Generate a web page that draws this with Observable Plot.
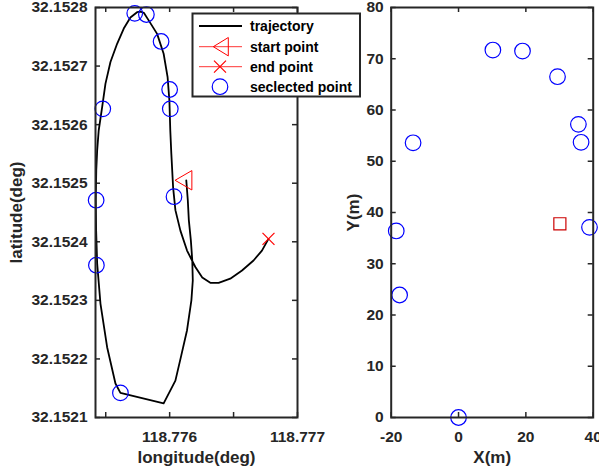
<!DOCTYPE html>
<html><head><meta charset="utf-8">
<script src="https://cdn.jsdelivr.net/npm/d3@7"></script>
<script src="https://cdn.jsdelivr.net/npm/@observablehq/plot@0.6"></script>
<style>
body{margin:0;background:#fff;}
#wrap{position:relative;width:599px;height:471px;font-family:"Liberation Sans",Arial,sans-serif;}
#wrap > svg, #wrap > figure{position:absolute;top:0;margin:0;}
</style></head><body><div id="wrap"></div>
<script>
// trajectory (longitude, latitude)
const trajLon = [118.776130,118.776142,118.776150,118.776166,118.776177,118.776181,118.776170,118.776136,118.776091,118.776045,118.775953,
  118.775615,118.775576,118.775511,118.775459,118.775433,118.775425,118.775422,118.775426,118.775433,118.775445,118.775472,118.775498,
  118.775537,118.775589,118.775641,118.775693,118.775745,118.775771,118.775798,118.775836,118.775902,118.775953,118.775984,118.775998,
  118.776005,118.776013,118.776027,118.776045,118.776084,118.776136,118.776201,118.776255,
  118.776318,118.776383,118.776474,118.776566,118.776656,118.776722,118.776773];
const trajLat = [32.152505,32.152471,32.152437,32.152402,32.152368,32.152334,32.152300,32.152249,32.152206,32.152163,32.152124,
  32.152142,32.152158,32.152220,32.152294,32.152363,32.152419,32.152471,32.152522,32.152556,32.152590,32.152630,32.152670,
  32.152707,32.152738,32.152764,32.152783,32.152792,32.152793,32.152791,32.152778,32.152755,32.152721,32.152681,32.152641,
  32.152590,32.152551,32.152493,32.152454,32.152419,32.152385,32.152357,32.152339,
  32.152330,32.152330,32.152337,32.152351,32.152368,32.152385,32.152405];
const selLon = [118.775727,118.775818,118.775933,118.776000,118.776005,118.775477,118.775425,118.776034,118.775427,118.775615];
const selLat = [32.152790,32.152788,32.152742,32.152660,32.152627,32.152627,32.152471,32.152477,32.152360,32.152142];
const startLon = [118.776130], startLat = [32.152505];
const endLon = [118.776773], endLat = [32.152405];
// local metric coordinates
const selX = [-13.5,10.2,19.0,29.4,35.6,36.4,38.9,-18.5,-17.5,0];
const selY = [53.6,71.7,71.5,66.5,57.2,53.7,37.1,36.4,23.9,0];
const refX = [30.1], refY = [37.8];
// ticks
const leftXTicks = [118.7755,118.776,118.7765,118.777];
const leftXLabels = [118.776,118.777];
const leftYTicks = [32.1521,32.1522,32.1523,32.1524,32.1525,32.1526,32.1527,32.1528];
const rightXTicks = [-20,0,20,40];
const rightYTicks = [0,10,20,30,40,50,60,70,80];
const legendLabels = ["trajectory","start point","end point","seclected point"];

const AX = "#262626";
const FONT = "'Liberation Sans', Arial, sans-serif";
const FS = 15.5;
const traj = trajLon.map((v,i)=>({x:v,y:trajLat[i]}));
const sel = selLon.map((v,i)=>({x:v,y:selLat[i]}));
const sel2 = selX.map((v,i)=>({x:v,y:selY[i]}));

const leftTriangle = {draw(ctx, size){const y=Math.sqrt(size/(Math.sqrt(3)*3));const h=Math.sqrt(3)*y;ctx.moveTo(-2*y,0);ctx.lineTo(y,-h);ctx.lineTo(y,h);ctx.closePath();}};

function boxTicks(xt, yt, fw, fh, len){
  return [
    Plot.ruleX(xt,{x:d=>d,insetTop:fh-len,stroke:AX,strokeWidth:1.5}),
    Plot.ruleX(xt,{x:d=>d,insetBottom:fh-len,stroke:AX,strokeWidth:1.5}),
    Plot.ruleY(yt,{y:d=>d,insetRight:fw-len,stroke:AX,strokeWidth:1.5}),
    Plot.ruleY(yt,{y:d=>d,insetLeft:fw-len,stroke:AX,strokeWidth:1.5})
  ];
}

const H = 471, MT = 7, MB = 54;
const left = Plot.plot({
  width:300, height:H, marginLeft:95, marginRight:3, marginTop:MT, marginBottom:MB,
  style:{fontFamily:FONT,fontWeight:"bold",fontSize:FS+"px",color:AX,background:"transparent",overflow:"visible"},
  x:{domain:[118.775420,118.777]}, y:{domain:[32.1521,32.1528]},
  marks:[
    ...boxTicks(leftXTicks,leftYTicks,202,410,5),
    Plot.axisX(leftXLabels,{tickSize:0,tickPadding:13,tickFormat:d=>d.toFixed(3),label:null,fontSize:FS,fontWeight:"bold"}),
    Plot.axisY(leftYTicks,{tickSize:0,tickPadding:8,tickFormat:d=>d.toFixed(4),label:null,fontSize:FS,fontWeight:"bold"}),
    Plot.line(traj,{x:"x",y:"y",stroke:"black",strokeWidth:1.8,strokeLinejoin:"round"}),
    Plot.dot(sel,{x:"x",y:"y",r:7.8,stroke:"#0000ff",strokeWidth:1.2,fill:"none"}),
    Plot.dot(startLon.map((v,i)=>({x:v,y:startLat[i]})),{x:"x",y:"y",r:7.2,symbol:leftTriangle,stroke:"#ff0000",strokeWidth:1,fill:"none"}),
    Plot.dot(endLon.map((v,i)=>({x:v,y:endLat[i]})),{x:"x",y:"y",r:5.5,symbol:"times",stroke:"#ff0000",strokeWidth:1.2,fill:"none"}),
    Plot.frame({stroke:AX,strokeWidth:2}),
    Plot.text(["longitude(deg)"],{text:d=>d,frameAnchor:"bottom",dy:40,lineAnchor:"middle",fontSize:17,fontWeight:"bold",fill:AX}),
    Plot.text(["latitude(deg)"],{text:d=>d,frameAnchor:"left",dx:-79,rotate:-90,textAnchor:"middle",lineAnchor:"middle",fontSize:17,fontWeight:"bold",fill:AX})
  ]
});
const right = Plot.plot({
  width:299, height:H, marginLeft:90.7, marginRight:6.3, marginTop:MT, marginBottom:MB,
  style:{fontFamily:FONT,fontWeight:"bold",fontSize:FS+"px",color:AX,background:"transparent",overflow:"visible"},
  x:{domain:[-20,40]}, y:{domain:[0,80]},
  marks:[
    ...boxTicks(rightXTicks,rightYTicks,202,410,5),
    Plot.axisX(rightXTicks,{tickSize:0,tickPadding:13,tickFormat:d=>String(d),label:null,fontSize:FS,fontWeight:"bold"}),
    Plot.axisY(rightYTicks,{tickSize:0,tickPadding:7.5,tickFormat:d=>String(d),label:null,fontSize:FS,fontWeight:"bold"}),
    Plot.dot(sel2,{x:"x",y:"y",r:7.8,stroke:"#0000ff",strokeWidth:1.2,fill:"none"}),
    Plot.dot(refX.map((v,i)=>({x:v,y:refY[i]})),{x:"x",y:"y",r:6.8,symbol:"square",stroke:"#cc0000",strokeWidth:1.2,fill:"none"}),
    Plot.frame({stroke:AX,strokeWidth:2}),
    Plot.text(["X(m)"],{text:d=>d,frameAnchor:"bottom",dy:40,lineAnchor:"middle",fontSize:17,fontWeight:"bold",fill:AX}),
    Plot.text(["Y(m)"],{text:d=>d,frameAnchor:"left",dx:-38,rotate:-90,textAnchor:"middle",lineAnchor:"middle",fontSize:17,fontWeight:"bold",fill:AX})
  ]
});
const wrap = document.getElementById("wrap");
left.style.left = "0px"; right.style.left = "300px";
wrap.appendChild(left); wrap.appendChild(right);

// legend overlay
const ns = "http://www.w3.org/2000/svg";
const lg = document.createElementNS(ns,"svg");
lg.setAttribute("width",599); lg.setAttribute("height",471);
lg.style.left="0px"; lg.style.pointerEvents="none";
const rows = [26,46.7,66.7,86.7];
let html = `<rect x="192.5" y="13.5" width="167.5" height="83" fill="#fff" stroke="${AX}" stroke-width="2"/>`;
html += `<line x1="199" x2="242" y1="${rows[0]}" y2="${rows[0]}" stroke="black" stroke-width="1.8"/>`;
html += `<line x1="199" x2="242" y1="${rows[1]}" y2="${rows[1]}" stroke="#ff0000" stroke-width="0.8"/>`;
html += `<path d="M213.3,${rows[1]}L228.3,${rows[1]-9.2}L228.3,${rows[1]+9.2}Z" fill="none" stroke="#ff0000" stroke-width="1"/>`;
html += `<line x1="199" x2="242" y1="${rows[2]}" y2="${rows[2]}" stroke="#ff0000" stroke-width="0.8"/>`;
html += `<path d="M214,${rows[2]-6}L226,${rows[2]+6}M214,${rows[2]+6}L226,${rows[2]-6}" stroke="#ff0000" stroke-width="1.2"/>`;
html += `<circle cx="220" cy="${rows[3]}" r="7.8" fill="none" stroke="#0000ff" stroke-width="1.2"/>`;
legendLabels.forEach((t,i)=>{
  html += `<text x="250" y="${rows[i]}" dy="0.35em" font-family="${FONT.replace(/'/g,'&quot;')}" font-weight="bold" font-size="14" fill="black">${t}</text>`;
});
lg.innerHTML = html;
wrap.appendChild(lg);
</script></body></html>
